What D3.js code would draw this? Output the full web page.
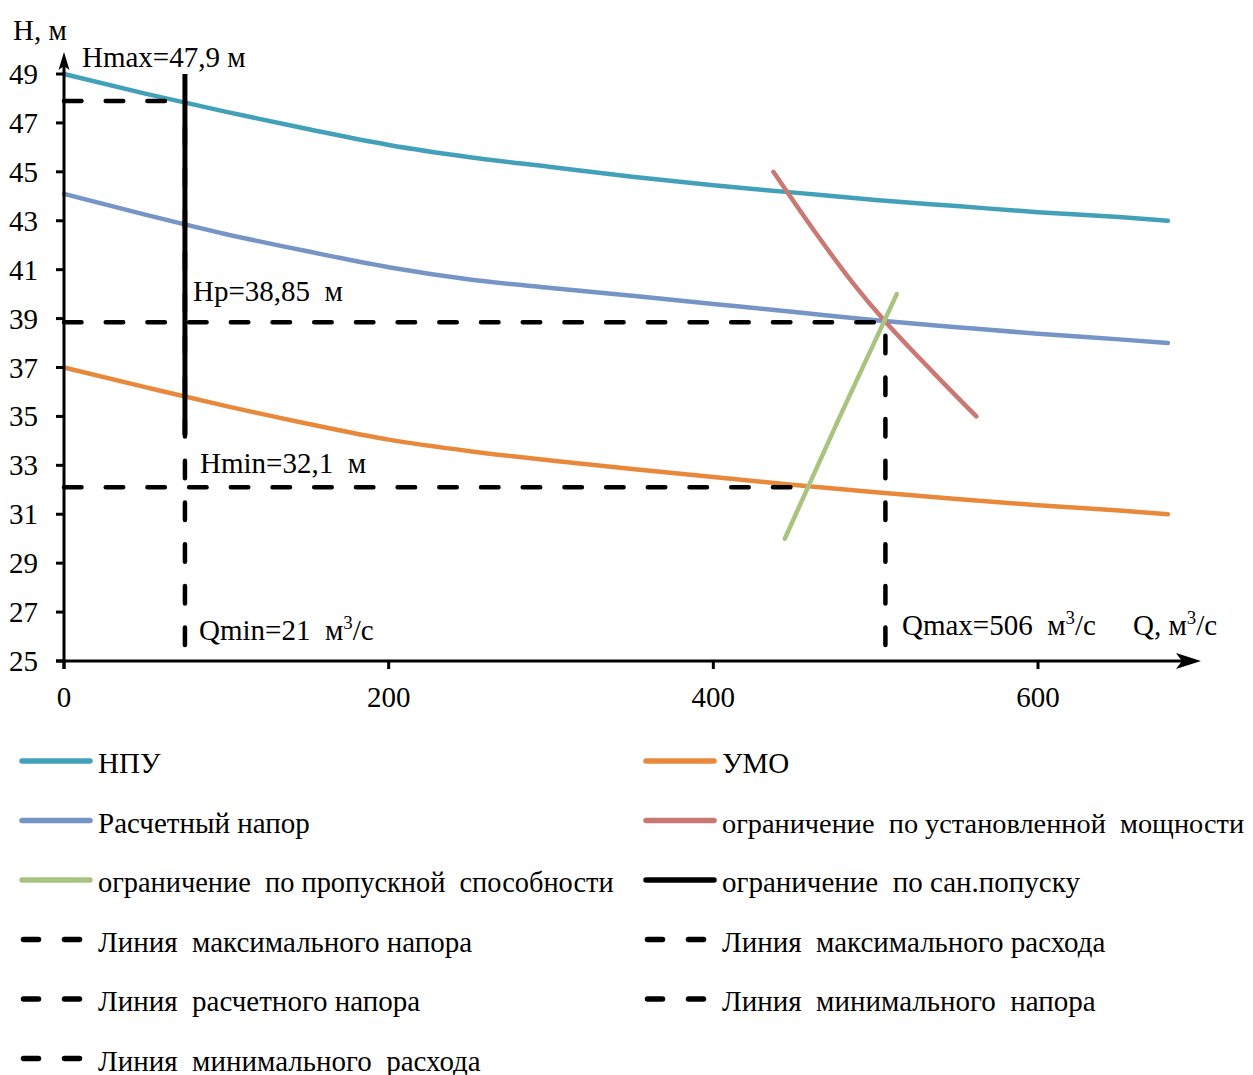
<!DOCTYPE html>
<html>
<head>
<meta charset="utf-8">
<script src="https://cdn.jsdelivr.net/npm/d3@7"></script>
<style>
  html, body { margin: 0; padding: 0; background: #fff; }
  svg text { font-family: "Liberation Serif", "Times New Roman", serif; fill: #000; white-space: pre; }
</style>
</head>
<body>
<svg id="chart" width="1253" height="1075"></svg>
<script>
// ---------- data ----------
const qGrid     = [0, 50, 100, 150, 200, 250, 300, 350, 400, 450, 500, 550, 600, 650, 680];
const npuH      = [49, 48.2, 47.45, 46.75, 46.1, 45.6, 45.2, 44.8, 44.45, 44.15, 43.85, 43.6, 43.35, 43.15, 43.0];
const raschetH  = [44.1, 43.25, 42.45, 41.75, 41.1, 40.6, 40.25, 39.93, 39.6, 39.27, 38.93, 38.65, 38.38, 38.15, 38.0];
const umoH      = [37.0, 36.2, 35.42, 34.7, 34.05, 33.58, 33.2, 32.85, 32.52, 32.2, 31.9, 31.62, 31.37, 31.15, 31.0];

const powerQ    = [437, 462, 486, 506, 536, 562];
const powerH    = [45, 42.6, 40.45, 38.87, 36.76, 35];
const capacityQ = [444, 478, 513];
const capacityH = [30, 35, 40];

const qSan      = 74.5;            // position of sanitary release line
const sanH      = [49, 34.25];
const hMax      = 47.9;
const hP        = 38.85;
const hMin      = 32.1;
const qMax      = 506;
const hMinEndQ  = 459;
const dashBottomH = 25.65;

const xTicks    = [0, 200, 400, 600];
const yTicks    = [25, 27, 29, 31, 33, 35, 37, 39, 41, 43, 45, 47, 49];

const legendLeft  = ["НПУ", "Расчетный напор", "ограничение  по пропускной  способности",
                     "Линия  максимального напора", "Линия  расчетного напора", "Линия  минимального  расхода"];
const legendRight = ["УМО", "ограничение  по установленной  мощности", "ограничение  по сан.попуску",
                     "Линия  максимального расхода", "Линия  минимального  напора"];

// ---------- styles ----------
const C = { npu: "#42A1B9", rasch: "#7694C6", umo: "#E8883A", power: "#C97874", cap: "#A9C47F", black: "#000" };
const FS = 29;
const DASH = "17.5,24.2";

const svg = d3.select("#chart");
svg.append("rect").attr("width", 1253).attr("height", 1075).attr("fill", "#fff");

const x = d3.scaleLinear().domain([0, 600]).range([64, 1038]);
const y = d3.scaleLinear().domain([25, 49]).range([661, 74]);

const line = d3.line().x(d => x(d[0])).y(d => y(d[1]));
const smooth = d3.line().x(d => x(d[0])).y(d => y(d[1])).curve(d3.curveMonotoneX);
const smoothCR = d3.line().x(d => x(d[0])).y(d => y(d[1])).curve(d3.curveCatmullRom.alpha(0.5));

function drawPath(pts, gen, color, w, dash) {
  const p = svg.append("path").attr("d", gen(pts)).attr("fill", "none")
    .attr("stroke", color).attr("stroke-width", w).attr("stroke-linecap", "round");
  if (dash) p.attr("stroke-dasharray", dash);
  return p;
}

// curves
drawPath(qGrid.map((q, i) => [q, npuH[i]]), smooth, C.npu, 4.5);
drawPath(qGrid.map((q, i) => [q, raschetH[i]]), smooth, C.rasch, 4.5);
drawPath(qGrid.map((q, i) => [q, umoH[i]]), smooth, C.umo, 4.5);

// dashed reference lines
drawPath([[0, hMax], [qSan, hMax]], line, C.black, 4.5, DASH);
drawPath([[0, hP], [qMax, hP]], line, C.black, 4.5, DASH);
drawPath([[0, hMin], [hMinEndQ, hMin]], line, C.black, 4.5, DASH);
drawPath([[qSan, dashBottomH], [qSan, hMax]], line, C.black, 4.5, DASH);
drawPath([[qMax, dashBottomH], [qMax, hP]], line, C.black, 4.5, DASH);

// constraint lines
drawPath(powerQ.map((q, i) => [q, powerH[i]]), smoothCR, C.power, 4.5);
drawPath(capacityQ.map((q, i) => [q, capacityH[i]]), line, C.cap, 4.5);
drawPath(sanH.map(h => [qSan, h]), line, C.black, 5).attr("stroke-linecap", "butt");

// ---------- axes ----------
const axW = 3;
// y axis
svg.append("line").attr("x1", x(0)).attr("x2", x(0)).attr("y1", y(25) + 8).attr("y2", 62)
  .attr("stroke", "#000").attr("stroke-width", axW);
svg.append("path").attr("d", `M${x(0)},52 L${x(0) + 5.5},70 L${x(0)},66 L${x(0) - 5.5},70 Z`).attr("fill", "#000");
// x axis
svg.append("line").attr("x1", x(0) - 8).attr("x2", 1190).attr("y1", y(25)).attr("y2", y(25))
  .attr("stroke", "#000").attr("stroke-width", axW);
svg.append("path").attr("d", `M1201,${y(25)} L1176,${y(25) - 8} L1182,${y(25)} L1176,${y(25) + 8} Z`).attr("fill", "#000");

// y ticks
yTicks.forEach(t => {
  svg.append("line").attr("x1", x(0) - 8).attr("x2", x(0)).attr("y1", y(t)).attr("y2", y(t))
    .attr("stroke", "#000").attr("stroke-width", axW);
  svg.append("text").attr("x", 38).attr("y", y(t) + 10).attr("text-anchor", "end")
    .attr("font-size", FS).text(t);
});
// x ticks
xTicks.forEach(t => {
  svg.append("line").attr("x1", x(t)).attr("x2", x(t)).attr("y1", y(25)).attr("y2", y(25) + 8)
    .attr("stroke", "#000").attr("stroke-width", axW);
  svg.append("text").attr("x", x(t)).attr("y", 707).attr("text-anchor", "middle")
    .attr("font-size", FS).text(t);
});

// ---------- annotations ----------
function label(tx, ty, parts) {
  const t = svg.append("text").attr("x", tx).attr("y", ty).attr("font-size", FS);
  let raised = false;
  parts.forEach(p => {
    const ts = t.append("tspan").text(p.s);
    if (p.sup) {
      ts.attr("font-size", FS * 0.65).attr("dy", -11);
      raised = true;
    } else if (raised) {
      ts.attr("dy", 11);
      raised = false;
    }
  });
  return t;
}
label(13, 40, [{s: "H, м"}]);
label(82, 67, [{s: "Hmax=47,9 м"}]);
label(193, 301, [{s: "Hp=38,85  м"}]);
label(200, 473, [{s: "Hmin=32,1  м"}]);
label(199, 640, [{s: "Qmin=21  м"}, {s: "3", sup: true}, {s: "/с"}]);
label(902, 635, [{s: "Qmax=506  м"}, {s: "3", sup: true}, {s: "/с"}]);
label(1133, 635, [{s: "Q, м"}, {s: "3", sup: true}, {s: "/с"}]);

// ---------- legend ----------
const leftStyles = [
  {c: C.npu}, {c: C.rasch}, {c: C.cap}, {c: "#000", d: true}, {c: "#000", d: true}, {c: "#000", d: true}];
const rightStyles = [
  {c: C.umo}, {c: C.power}, {c: "#000"}, {c: "#000", d: true}, {c: "#000", d: true}];
const rowY0 = 761, rowStep = 59.5;
function legendCol(items, styles, lx, maxW) {
  items.forEach((name, i) => {
    const ly = rowY0 + i * rowStep;
    const st = styles[i];
    if (st.d) {
      svg.append("line").attr("x1", lx + 3.5).attr("x2", lx + 64).attr("y1", ly).attr("y2", ly)
        .attr("stroke", st.c).attr("stroke-width", 5.5).attr("stroke-linecap", "round")
        .attr("stroke-dasharray", "15,26");
    } else {
      svg.append("line").attr("x1", lx + 2).attr("x2", lx + 70).attr("y1", ly).attr("y2", ly)
        .attr("stroke", st.c).attr("stroke-width", 5.5).attr("stroke-linecap", "round");
    }
    const t = svg.append("text").attr("x", lx + 78).attr("y", ly + 12).attr("font-size", FS).text(name);
    const w = t.node().getComputedTextLength();
    if (w > maxW) t.attr("font-size", (FS * maxW / w).toFixed(2));
  });
}
legendCol(legendLeft, leftStyles, 20, 516);
legendCol(legendRight, rightStyles, 644, 522);
</script>
</body>
</html>
